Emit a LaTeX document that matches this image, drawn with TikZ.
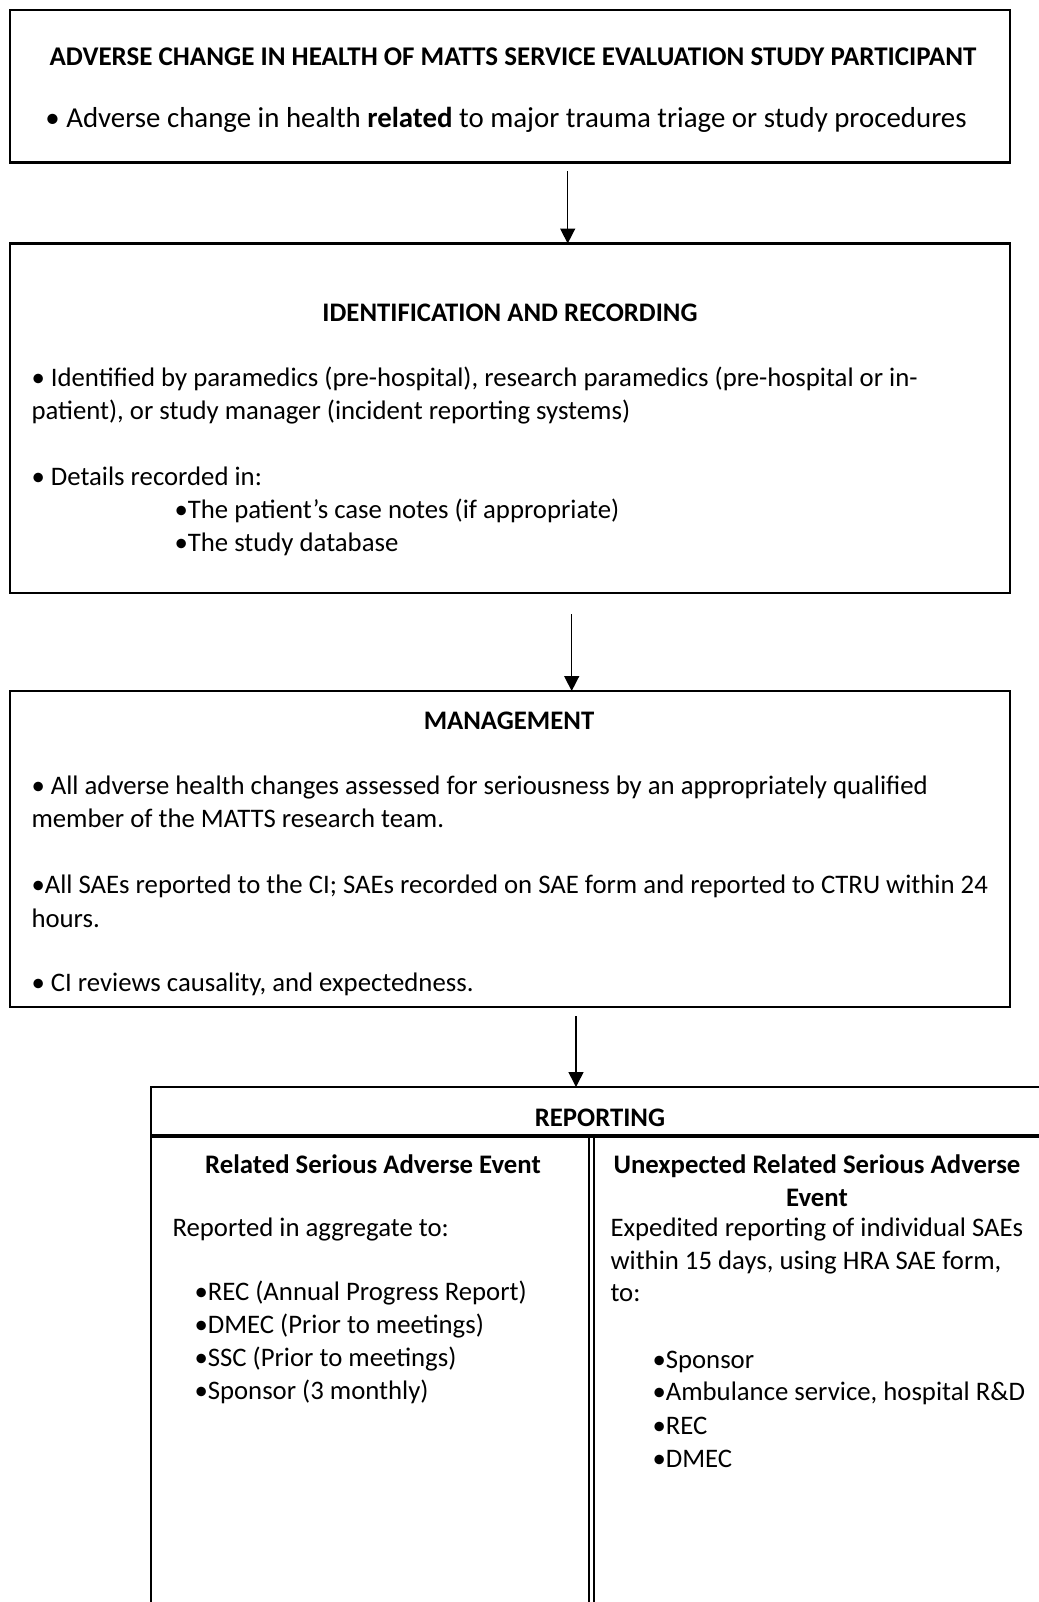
\documentclass[tikz,border=0pt]{standalone}
\usepackage{fontspec}
\setmainfont{Carlito}
\usetikzlibrary{arrows.meta}
\newcommand\myfs{\fontsize{10.7pt}{13pt}\selectfont}
\newcommand\ttlfs{\fontsize{10.8pt}{13pt}\selectfont}
\newcommand\bigfs{\fontsize{11.55pt}{14pt}\selectfont}
\tikzset{
  box/.style={draw, line width=1.1pt, inner sep=0pt, outer sep=0pt},
  txt/.style={anchor=base west, inner sep=0pt, font=\myfs},
  ctr/.style={anchor=base, inner sep=0pt, font=\myfs},
  ttl/.style={anchor=base, inner sep=0pt, font=\myfs\bfseries},
  arr/.style={line width=0.6pt, -{Triangle[length=6pt,width=6pt]}},
}
\begin{document}
\begin{tikzpicture}[x=0.4pt, y=-0.4pt]
\useasboundingbox (0,0) rectangle (1039,1602);
\clip (0,0) rectangle (1039,1602);

% Box 1
\node[box, minimum width=400pt, minimum height=61pt] (b1) at (510,86.25) {};
\node[ttl, font=\ttlfs\bfseries] (t1) at (513,65) {ADVERSE CHANGE IN HEALTH OF MATTS SERVICE EVALUATION STUDY PARTICIPANT};
\node[ctr, font=\bigfs] (t1a) at (506,127) {• Adverse change in health \textbf{related} to major trauma triage or study procedures};

% Box 2
\node[box, minimum width=400pt, minimum height=139.8pt] (b2) at (510,418.25) {};
\node[ttl] (t2) at (510,321) {IDENTIFICATION AND RECORDING};
\node[txt] (t2a) at (31,386) {• Identified by paramedics (pre-hospital), research paramedics (pre-hospital or in-};
\node[txt] (t2b) at (31,419) {patient), or study manager (incident reporting systems)};
\node[txt] (t2c) at (31,485) {• Details recorded in:};
\node[txt] (t2d) at (174,518) {•The patient’s case notes (if appropriate)};
\node[txt] (t2e) at (174,551) {•The study database};

% Box 3
\node[box, minimum width=400pt, minimum height=126.4pt] (b3) at (510,849) {};
\node[ttl] (t3) at (509,729) {MANAGEMENT};
\node[txt] (t3a) at (31,794) {• All adverse health changes assessed for seriousness by an appropriately qualified};
\node[txt] (t3b) at (31,827) {member of the MATTS research team.};
\node[txt] (t3c) at (31,893) {•All SAEs reported to the CI; SAEs recorded on SAE form and reported to CTRU within 24};
\node[txt] (t3d) at (31,927) {hours.};
\node[txt] (t3e) at (31,991) {• CI reviews causality, and expectedness.};

% Box 4
\node[box, anchor=north west, minimum width=370pt, minimum height=220pt] (b4) at (151,1087) {};
\coordinate (h1) at (151,1136);
\coordinate (h2) at (1060,1136);
\draw[line width=1.8pt] (h1) -- (h2);
\coordinate (d1a) at (589.3,1136);
\coordinate (d1b) at (589.3,1620);
\coordinate (d2a) at (593.7,1136);
\coordinate (d2b) at (593.7,1620);
\draw[line width=0.8pt] (d1a) -- (d1b);
\draw[line width=0.8pt] (d2a) -- (d2b);
\node[ttl] (t4) at (600,1126) {REPORTING};
\node[ttl] (t4l) at (373,1173) {Related Serious Adverse Event};
\node[ttl] (t4r1) at (817,1173) {Unexpected Related Serious Adverse};
\node[ttl] (t4r2) at (817,1206) {Event};
\node[txt] (l1) at (172,1236) {Reported in aggregate to:};
\node[txt] (l2) at (194,1300) {•REC (Annual Progress Report)};
\node[txt] (l3) at (194,1333) {•DMEC (Prior to meetings)};
\node[txt] (l4) at (194,1366) {•SSC (Prior to meetings)};
\node[txt] (l5) at (194,1399) {•Sponsor (3 monthly)};
\node[txt] (r1) at (610,1236) {Expedited reporting of individual SAEs};
\node[txt] (r2) at (610,1269) {within 15 days, using HRA SAE form,};
\node[txt] (r3) at (610,1301) {to:};
\node[txt] (r4) at (652,1368) {•Sponsor};
\node[txt] (r5) at (652,1400) {•Ambulance service, hospital R\&D};
\node[txt] (r6) at (652,1434) {•REC};
\node[txt] (r7) at (652,1467) {•DMEC};

% Arrows
\coordinate (a1) at (567.7,171);
\coordinate (a2) at (571.7,614);
\coordinate (a3) at (576,1016);
\draw[arr] (a1) -- (a1 |- b2.north);
\draw[arr] (a2) -- (a2 |- b3.north);
\draw[arr] (a3) -- (a3 |- b4.north);
\end{tikzpicture}
\end{document}
